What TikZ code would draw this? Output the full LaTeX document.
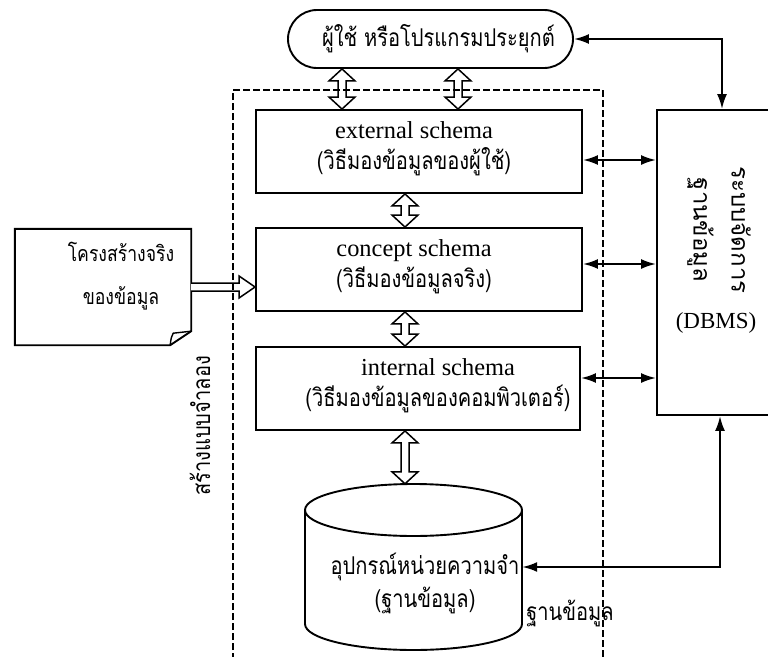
\documentclass[tikz,border=0pt]{standalone}
\usepackage{fontspec}
\setmainfont{Liberation Serif}
\newfontfamily\thai[Script=Thai,FakeStretch=0.82]{Loma}
\newfontfamily\thaiwide[Script=Thai]{Loma}
\usetikzlibrary{arrows.meta,calc}

\tikzset{
  outline/.style={draw,line width=1.9pt,inner sep=0pt},
  box/.style={outline,minimum width=326pt,minimum height=83pt},
  boxtext/.style={inner sep=0pt,align=center,font=\fontsize{24.4}{31}\selectfont},
  thaitext/.style={inner sep=0pt,align=center,font=\thai\fontsize{24.5}{31}\selectfont},
  dbl/.style={line width=2.1pt,line join=miter,{Latex[length=15pt,width=10pt]}-{Latex[length=15pt,width=10pt]}},
  frame/.style={line width=1.1pt,dash pattern=on 7pt off 3pt},
  hollow/.style={draw,line width=1.5pt,fill=white,line join=miter}
}

% hollow double-headed vertical arrow, tip at #1 (upper) and tip at #2 (lower)
\newcommand\hollowarrow[2]{%
  \path[hollow] let \p1=(#1), \p2=(#2) in
    (\x1,\y1) -- (\x1+13pt,\y1-12pt) -- (\x1+4pt,\y1-12pt) --
    (\x2+4pt,\y2+12pt) -- (\x2+13pt,\y2+12pt) -- (\x2,\y2) --
    (\x2-13pt,\y2+12pt) -- (\x2-4pt,\y2+12pt) --
    (\x1-4pt,\y1-12pt) -- (\x1-13pt,\y1-12pt) -- cycle;}

\newcommand\thl{\thai\fontsize{24.5}{31}\selectfont}

\begin{document}
\begin{tikzpicture}[x=1pt,y=-1pt]
\useasboundingbox (0,0) rectangle (768,656);

% users / application programs
\node[outline,rounded corners=29pt,minimum width=285pt,minimum height=58pt,
      font=\thai\fontsize{24.5}{28}\selectfont] (usr) at (430.5,39)
      {\hspace*{16pt}ผู้ใช้ หรือโปรแกรมประยุกต์};

% three schema levels
\node[box] (ext) at (419,151.5) {};
\node[boxtext] (exttext) at (414,149) {external schema\\{\thl (วิธีมองข้อมูลของผู้ใช้)}};
\node[box] (con) at (419,269.5) {};
\node[boxtext] (context) at (414,267) {concept schema\\{\thl (วิธีมองข้อมูลจริง)}};
\node[box,minimum width=324pt] (int) at (418,388.5) {};
\node[boxtext] (inttext) at (438,386) {internal schema\\{\thl (วิธีมองข้อมูลของคอมพิวเตอร์)}};

% DBMS block (runs off the right edge)
\node[outline,minimum width=123pt,minimum height=305pt] (dbms) at (718.5,262.5) {};
\node[thaitext,rotate=-90,font=\thaiwide\fontsize{24}{38}\selectfont] (dbmsname) at (719,230)
      {ระบบจัดการ\\ฐานข้อมูล};
\node[inner sep=0pt,font=\fontsize{23}{28}\selectfont] (dbmsabbr) at (716,323) {(DBMS)};

% real data structure document
\node[minimum width=176pt,minimum height=116pt,inner sep=0pt] (doc) at (103,287) {};
\draw[line width=1.9pt,line join=miter]
  (doc.north west) -- (doc.north east) -- ([yshift=14pt]doc.south east)
  -- ([xshift=-21pt]doc.south east) -- (doc.south west) -- cycle;
\draw[line width=1.4pt]
  ([xshift=-21pt]doc.south east) .. controls ([xshift=-20pt,yshift=8pt]doc.south east) ..
  ([xshift=-18pt,yshift=12pt]doc.south east) -- ([yshift=14pt]doc.south east);
\node[thaitext,font=\thai\fontsize{21.5}{43}\selectfont] (doctext) at (121,276.5)
      {โครงสร้างจริง\\ของข้อมูล};

% storage device (cylinder)
\node[minimum width=217pt,minimum height=166pt,inner sep=0pt] (db) at (413.5,567) {};
\draw[line width=1.9pt,fill=white] (305,510) -- (305,624)
  arc[start angle=180,end angle=360,x radius=108.5pt,y radius=26pt] -- (522,510);
\draw[line width=1.9pt] (413.5,510) ellipse [x radius=108.5pt,y radius=26pt];
\node[thaitext,font=\thai\fontsize{24.5}{33}\selectfont] (dbtext) at (425,583.5)
      {อุปกรณ์หน่วยความจำ\\(ฐานข้อมูล)};

% side labels
\node[thaitext,rotate=90] (modellabel) at (200,426) {สร้างแบบจำลอง};
\node[thaitext] (dblabel) at (570,613) {ฐานข้อมูล};

% hollow arrows between levels
\coordinate (ca) at (342,0);
\coordinate (cb) at (458,0);
\coordinate (cc) at (405,0);
\hollowarrow{usr.south -| ca}{ext.north -| ca}
\hollowarrow{usr.south -| cb}{ext.north -| cb}
\hollowarrow{ext.south -| cc}{con.north -| cc}
\hollowarrow{con.south -| cc}{int.north -| cc}
\hollowarrow{int.south -| cc}{db.north -| cc}

% hollow arrow from the document into the concept schema
\path[hollow] let \p1=(doc.east), \p2=(con.west) in
  (\x1,\y1+4pt) -- (\x2-16pt,\y1+4pt) -- (\x2-16pt,\y1+11pt) -- (\x2,\y1)
  -- (\x2-16pt,\y1-11pt) -- (\x2-16pt,\y1-4pt) -- (\x1,\y1-4pt);

% DBMS links
\coordinate (e1) at ([yshift=-8.5pt]ext.east);
\coordinate (e2) at ([yshift=5.5pt]con.east);
\coordinate (e3) at ([yshift=10.5pt]int.east);
\draw[dbl] (e1) -- (e1 -| dbms.west);
\draw[dbl] (e2) -- (e2 -| dbms.west);
\draw[dbl] (e3) -- (e3 -| dbms.west);
\coordinate (k1) at (722,0);
\coordinate (k2) at (720,0);
\draw[dbl] (usr.east) -- (usr.east -| k1) -- (dbms.north -| k1);
\draw[dbl] (dbms.south -| k2) -- (db.east -| k2) -- (db.east);

% model boundary
\draw[frame] (233,670) -- (233,90) -- (603,90) -- (603,670);
\end{tikzpicture}
\end{document}
